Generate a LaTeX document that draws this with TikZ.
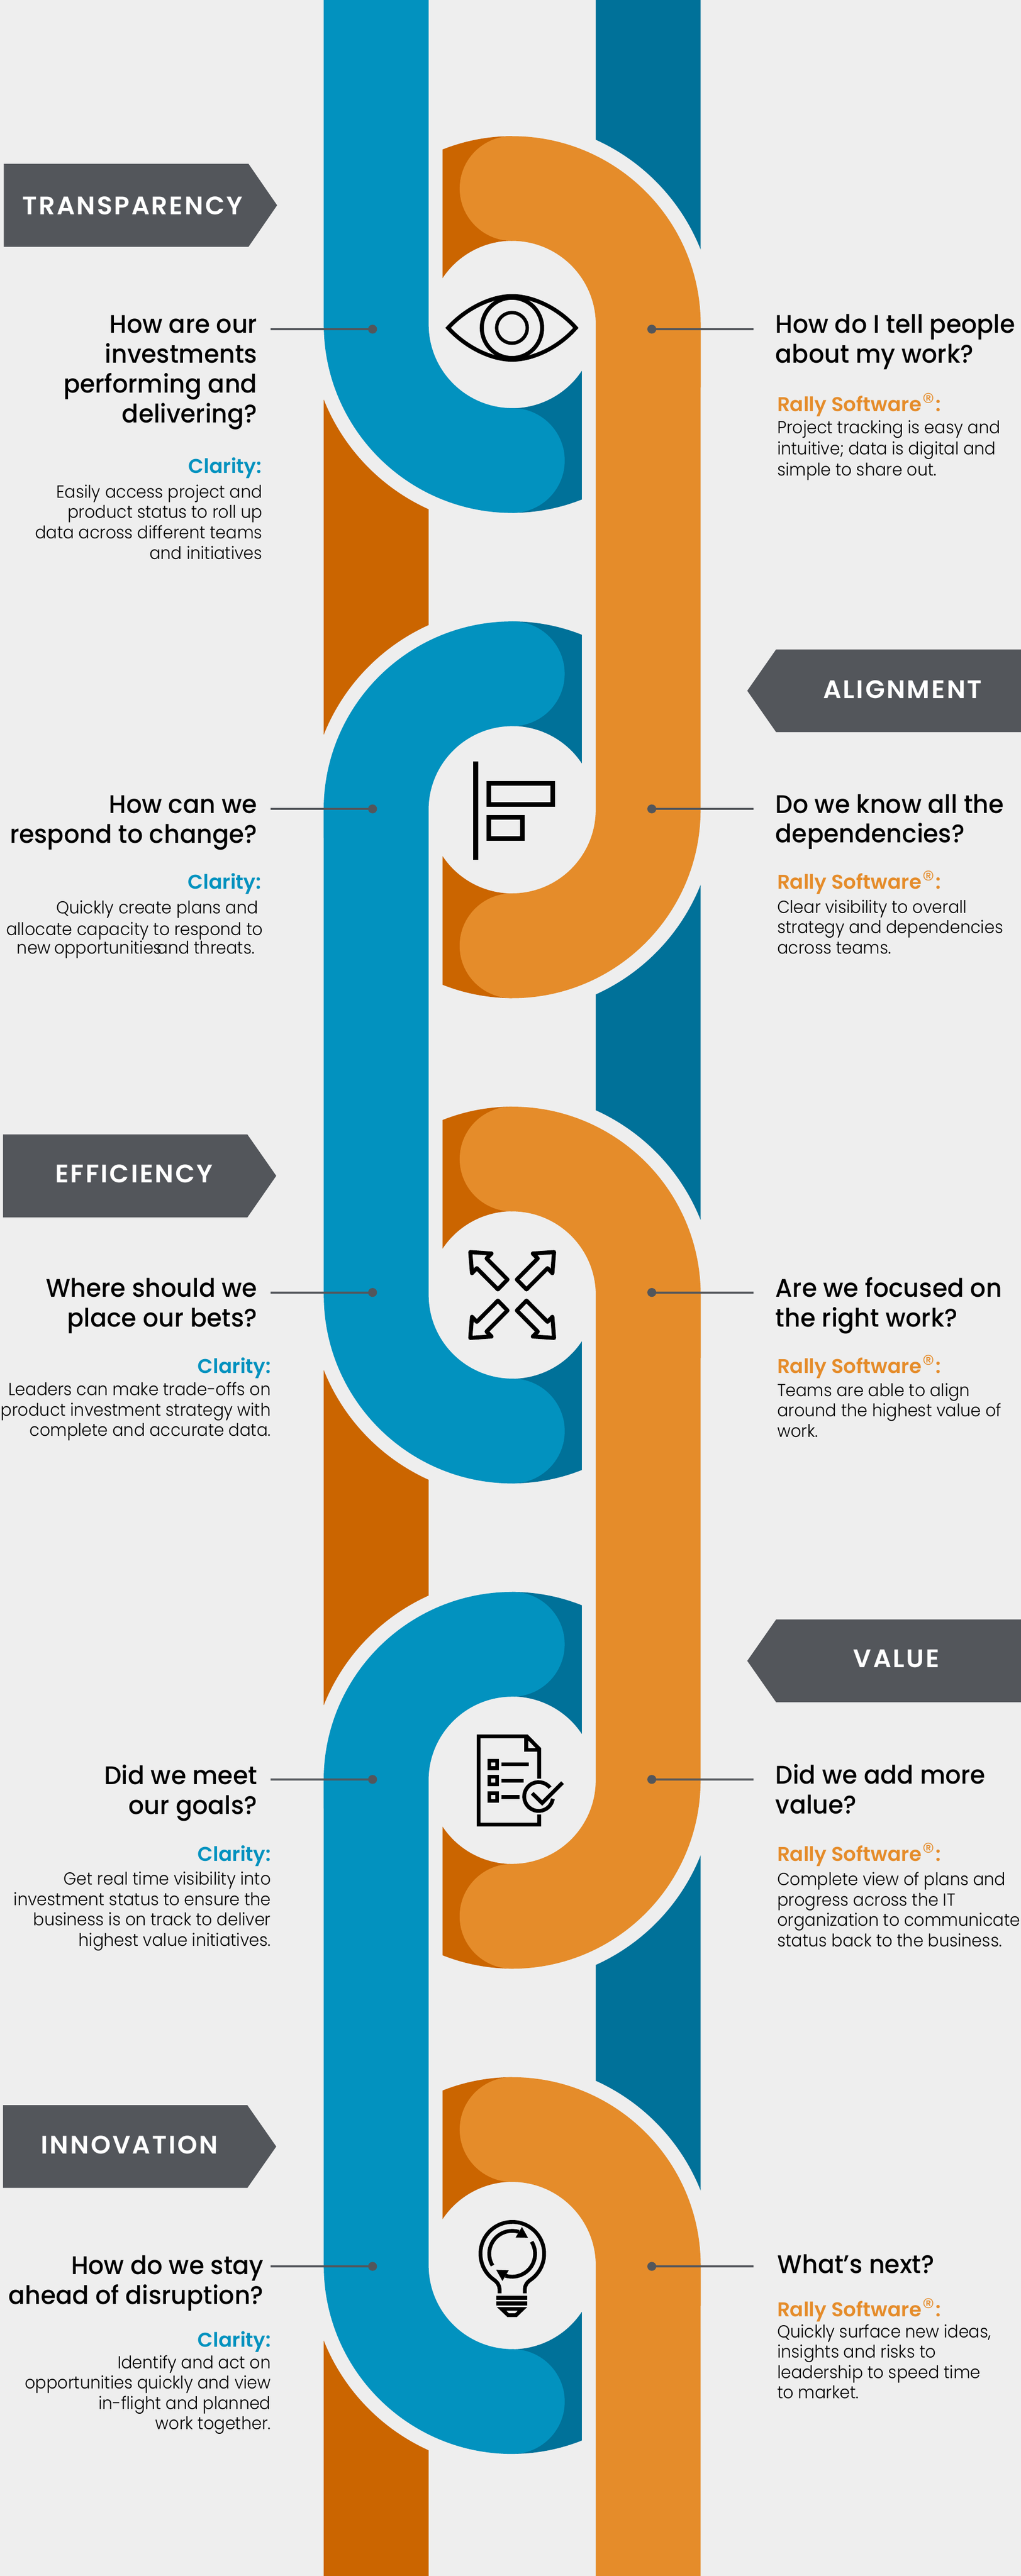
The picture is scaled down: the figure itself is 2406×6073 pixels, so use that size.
\documentclass[tikz,border=0pt]{standalone}
\usepackage{fontspec}
\usepackage{graphicx}
\setmainfont{Poppins}
\newfontfamily\pQ{Poppins Medium}[FakeStretch=0.96]
\newfontfamily\pB{Poppins Light}[FakeStretch=0.94]
\newfontfamily\pL{Poppins SemiBold}
\newfontfamily\pT{Poppins SemiBold}[LetterSpace=7]
\newfontfamily\pR{Poppins Light}
\definecolor{bg}{HTML}{EEEEEE}
\definecolor{cblue}{HTML}{0292BF}
\definecolor{cteal}{HTML}{007199}
\definecolor{corange}{HTML}{E58C2A}
\definecolor{cdark}{HTML}{CB6500}
\definecolor{cgrey}{HTML}{53565B}
\newcommand\Qs{\rule{0pt}{0.5cm}}
\newcommand\Bs{\rule{0pt}{0.36cm}}
\newcommand\Reg{\hspace{0.03em}{\pR\raisebox{0.02em}{\scalebox{1.25}{®}}}\hspace{0.03em}}
\newcommand\gap[1]{\hspace*{#1cm}}
\tikzset{
  qtext/.style={inner sep=0pt,font=\pQ\fontsize{17.07}{20}\selectfont,text=black},
  qr/.style={qtext,anchor=north east,align=right},
  ql/.style={qtext,anchor=north west,align=left},
  btext/.style={inner sep=0pt,font=\pB\fontsize{11.7}{13.66}\selectfont,text=black},
  br/.style={btext,anchor=north east,align=right},
  bl/.style={btext,anchor=north west,align=left},
  lab/.style={inner sep=0pt,font=\pL\fontsize{13.37}{16}\selectfont},
  clarity/.style={lab,anchor=base east,text=cblue},
  rally/.style={lab,anchor=base west,text=corange},
  tagshape/.style={fill=cgrey},
  tagtext/.style={inner sep=0pt,anchor=base,text=white,font=\pT\fontsize{17}{20}\selectfont},
  lead/.style={draw=cgrey,line width=0.05cm},
  leaddot/.style={circle,fill=cgrey,inner sep=0pt,minimum size=0.21cm},
  icon/.style={draw=black,line width=0.095cm},
}
\begin{document}
\begin{tikzpicture}[x=0.01cm,y=0.01cm,yscale=-1]
\useasboundingbox (0,0) rectangle (2406,6073);
\fill[bg] (0,0) rectangle (2406,6073);

% --- dark back strips
\fill[cteal] (1404,0) -- (1651,0) -- (1651,765-177.1)
  arc[start angle=-21.75,end angle=-65.66,radius=4.78cm] -- cycle;
\foreach \a/\b in {1909/3053,4197/5341}{
  \fill[cteal] (1404,\a+435.4) arc[start angle=65.66,end angle=21.75,radius=4.78cm]
    -- (1651,\b-177.1) arc[start angle=-21.75,end angle=-65.66,radius=4.78cm] -- cycle;
}
\foreach \a/\b in {765/1909,3053/4197}{
  \fill[cdark] (763,\a+177.1) arc[start angle=158.25,end angle=114.34,radius=4.78cm]
    -- (1010,\b-435.4) arc[start angle=245.66,end angle=201.75,radius=4.78cm] -- cycle;
}
\fill[cdark] (763,5341+177.1) arc[start angle=158.25,end angle=114.34,radius=4.78cm]
  -- (1010,6073) -- (763,6073) -- cycle;

% --- dark tucked ends of the links
\foreach \c in {765,3053,5341}{
  \fill[cdark] (1207,\c-444) arc[start angle=-90,end angle=-111.68,radius=4.44cm]
    -- (1043,\c-109.4) arc[start angle=-146.4,end angle=-90,radius=1.97cm] -- cycle;
  \fill[cteal] (1207,\c+444) arc[start angle=90,end angle=68.32,radius=4.44cm]
    -- (1371,\c+109.4) arc[start angle=33.6,end angle=90,radius=1.97cm] -- cycle;
}
\foreach \c in {1909,4197}{
  \fill[cteal] (1207,\c-444) arc[start angle=-90,end angle=-68.32,radius=4.44cm]
    -- (1371,\c-109.4) arc[start angle=-33.6,end angle=-90,radius=1.97cm] -- cycle;
  \fill[cdark] (1207,\c+444) arc[start angle=90,end angle=111.68,radius=4.44cm]
    -- (1043,\c+109.4) arc[start angle=146.4,end angle=90,radius=1.97cm] -- cycle;
}

% --- blue links
\fill[cblue] (763,0) -- (763,765) arc[start angle=180,end angle=90,radius=4.44cm]
  arc[start angle=90,end angle=-90,radius=1.235cm]
  arc[start angle=90,end angle=180,radius=1.97cm] -- (1010,0) -- cycle;
\foreach \a/\b in {1909/3053,4197/5341}{
  \fill[cblue] (1207,\a-444) arc[start angle=-90,end angle=-180,radius=4.44cm]
    -- (763,\b) arc[start angle=180,end angle=90,radius=4.44cm]
    arc[start angle=90,end angle=-90,radius=1.235cm]
    arc[start angle=90,end angle=180,radius=1.97cm]
    -- (1010,\a) arc[start angle=180,end angle=270,radius=1.97cm]
    arc[start angle=90,end angle=-90,radius=1.235cm] -- cycle;
}
% --- orange links
\foreach \a/\b in {765/1909,3053/4197}{
  \fill[corange] (1207,\a-444) arc[start angle=-90,end angle=0,radius=4.44cm]
    -- (1651,\b) arc[start angle=0,end angle=90,radius=4.44cm]
    arc[start angle=90,end angle=270,radius=1.235cm]
    arc[start angle=90,end angle=0,radius=1.97cm]
    -- (1404,\a) arc[start angle=0,end angle=-90,radius=1.97cm]
    arc[start angle=90,end angle=270,radius=1.235cm] -- cycle;
}
\fill[corange] (1207,5341-444) arc[start angle=-90,end angle=0,radius=4.44cm]
  -- (1651,6073) -- (1404,6073) -- (1404,5341) arc[start angle=0,end angle=-90,radius=1.97cm]
  arc[start angle=90,end angle=270,radius=1.235cm] -- cycle;

% --- tags
\fill[tagshape] (9,386) -- (585.5,386) -- (653,484) -- (585.5,582) -- (9,582) -- cycle;
\node[tagtext] (tagA) at (312,505.5) {TRANSPARENCY};
\fill[tagshape] (2406,1531) -- (1829,1531) -- (1761,1628.5) -- (1829,1726) -- (2406,1726) -- cycle;
\node[tagtext] (tagB) at (2127,1646) {ALIGNMENT};
\fill[tagshape] (7,2674.5) -- (583,2674.5) -- (651,2772) -- (583,2870) -- (7,2870) -- cycle;
\node[tagtext] (tagC) at (316,2788) {EFFICIENCY};
\fill[tagshape] (2406,3818) -- (1829,3818) -- (1761,3915.5) -- (1829,4013) -- (2406,4013) -- cycle;
\node[tagtext] (tagD) at (2112.5,3931) {VALUE};
\fill[tagshape] (7,4963) -- (583,4963) -- (651,5060.5) -- (583,5158) -- (7,5158) -- cycle;
\node[tagtext] (tagE) at (305,5078) {INNOVATION};

% --- leaders
\foreach \n/\y in {a/776,b/1907,c/3047,d/4195,e/5343}{
  \coordinate (sL\n) at (638,\y);
  \node[leaddot] (dL\n) at (878,\y) {};
  \draw[lead] (sL\n) -- (dL\n.center);
  \coordinate (sR\n) at (1776,\y);
  \node[leaddot] (dR\n) at (1536,\y) {};
  \draw[lead] (sR\n) -- (dR\n.center);
}

% --- left texts
\node[qr] (q1) at (607,785-50) {\Qs How are our\\investments\\performing and\\delivering?};
\node[clarity] (c1) at (617,1115) {Clarity:};
\node[br] (b1) at (619,1173-36) {\Bs Easily access project and\\product status to roll up\\data across different teams\\and initiatives};

\node[qr] (q2) at (607,1917-50) {\Qs How can we\\respond to change?};
\node[clarity] (c2) at (616,2096) {Clarity:};
\node[br] (b2) at (620,2153-36) {\Bs Quickly create plans and\gap{0.11}\\[0.03cm]allocate capacity to respond to\\[-0.04cm]new\hspace{-0.03cm} opportunities\hspace{-0.22cm} and threats.\gap{0.19}};

\node[qr] (q3) at (607,3057-50) {\Qs Where should we\\place our bets?};
\node[clarity] (c3) at (639,3237) {Clarity:};
\node[br] (b3) at (639,3289-36) {\Bs Leaders can make trade-offs on\\product investment strategy with\\complete and accurate data.};

\node[qr] (q4) at (607,4206-50) {\Qs Did we meet\\our goals?};
\node[clarity] (c4) at (639,4388) {Clarity:};
\node[br] (b4) at (639,4443-36) {\Bs Get real time visibility into\\investment status to ensure the\\business is on track to deliver\\highest value initiatives.};

\node[qr] (q5) at (622,5361-50) {\Qs How do we stay\\ahead of disruption?};
\node[clarity] (c5) at (639,5533) {Clarity:};
\node[br] (b5) at (639,5583-36) {\Bs Identify and act on\\opportunities quickly and view\\in-flight and planned\\work together.};

% --- right texts
\node[ql] (r1) at (1827,785-50) {\Qs How do I tell people\\about my work?};
\node[rally] (s1) at (1831,969.5) {Rally Software\Reg:};
\node[bl] (t1) at (1831,1021-36) {\Bs Project tracking is easy and\\[0.02cm]intuitive; data is digital and\\[0.02cm]simple to share out.};

\node[ql] (r2) at (1827,1916-50) {\Qs Do we know all the\\dependencies?};
\node[rally] (s2) at (1831,2096) {Rally Software\Reg:};
\node[bl] (t2) at (1831,2152-36) {\Bs Clear visibility to overall\\strategy and dependencies\\across teams.};

\node[ql] (r3) at (1827,3057-50) {\Qs Are we focused on\\the right work?};
\node[rally] (s3) at (1831,3237) {Rally Software\Reg:};
\node[bl] (t3) at (1831,3291-36) {\Bs Teams are able to align\\around the highest value of\\work.};

\node[ql] (r4) at (1827,4205-50) {\Qs Did we add more\\value?};
\node[rally] (s4) at (1831,4388) {Rally Software\Reg:};
\node[bl] (t4) at (1831,4444-36) {\Bs Complete view of plans and\\progress across the IT\\organization to communicate\\status back to the business.};

\node[ql] (r5) at (1832,5359-50) {\Qs What’s next?};
\node[rally] (s5) at (1831,5461.7) {Rally Software\Reg:};
\node[bl] (t5) at (1831,5510-36) {\Bs Quickly surface new ideas,\\insights and risks to\\leadership to speed time\\to market.};

% --- icon: eye
\draw[icon,miter limit=10] (1056,773) .. controls (1100,725) and (1160,698) .. (1207,698)
  .. controls (1254,698) and (1315,725) .. (1357,773)
  .. controls (1315,821) and (1254,848) .. (1207,848)
  .. controls (1160,848) and (1100,821) .. (1056,773) -- cycle;
\draw[icon] (1206.5,773) circle[radius=0.71cm];
\draw[icon,line width=0.08cm] (1206.5,773) circle[radius=0.36cm];

% --- icon: align
\fill[black] (1115,1795.5) rectangle (1127,2027.5);
\draw[icon,line width=0.11cm] (1151.5,1846.5) rectangle (1302.5,1896.5);
\draw[icon,line width=0.11cm] (1151.5,1926.5) rectangle (1231.5,1976.5);

% --- icon: arrows
\foreach \sx/\sy in {1/1,-1/1,1/-1,-1/-1}{
  \begin{scope}[shift={(1207,3053)},xscale=\sx,yscale=\sy]
    \draw[icon,line join=round] (-98.7,-101.2) -- (-48.7,-97.8) -- (-60.3,-86.2) -- (-11,-36.5)
      -- (-33.7,-13.2) -- (-83.3,-63.2) -- (-94.7,-51.5) -- cycle;
  \end{scope}
}

% --- icon: document
\draw[icon,line width=0.09cm] (1270.7,4193.3) -- (1270.7,4123) -- (1241.5,4093.5) -- (1128,4093.5)
  -- (1128,4301.5) -- (1270.7,4301.5) -- (1270.7,4277.7);
\draw[icon,line width=0.09cm] (1240,4095) -- (1240,4125.3) -- (1270.7,4125.3);
\foreach \y in {4150.4,4189,4227.7}{
  \draw[icon,line width=0.087cm] (1153,\y) rectangle (1171,\y+18);
}
\draw[icon,line width=0.09cm] (1182,4159.7) -- (1246,4159.7);
\draw[icon,line width=0.09cm] (1182,4198.3) -- (1234,4198.3);
\draw[icon,line width=0.09cm] (1182,4236.3) -- (1224,4236.3);
\draw[icon,line width=0.09cm] (1296.1,4214.4) arc[start angle=-38,end angle=-351,radius=0.34cm];
\draw[icon,line width=0.09cm] (1254.3,4227.7) -- (1277.7,4250.7) -- (1325.7,4202.7);

% --- icon: bulb
\draw[icon,line width=0.09cm] (1177.3,5406.7) -- (1177.3,5397) .. controls (1177.3,5388) and (1172,5380) .. (1163.3,5374)
  arc[start angle=125.9,end angle=414.1,radius=0.75cm]
  .. controls (1242,5380) and (1236.7,5388) .. (1236.7,5397) -- (1236.7,5406.7);
\draw[icon,line width=0.09cm] (1160.7,5341.1) arc[start angle=149,end angle=287,radius=0.54cm];
\fill[black] (1230,5250) -- (1244.3,5275.7) -- (1215,5275) -- cycle;
\draw[icon,line width=0.09cm] (1252.9,5284.9) arc[start angle=-31.7,end angle=107,radius=0.54cm];
\fill[black] (1169.3,5351) -- (1199,5352) -- (1184,5377.3) -- cycle;
\fill[black] (1170,5412.7) rectangle (1243,5422);
\fill[black] (1170,5426) rectangle (1243,5435.3);
\fill[black,even odd rule] (1171,5439) -- (1242.3,5439) -- (1218,5462.3) -- (1195.7,5462.3) -- cycle
  (1193.3,5447.7) -- (1220.3,5447.7) -- (1214,5453.7) -- (1199.3,5453.7) -- cycle;
\end{tikzpicture}
\end{document}
